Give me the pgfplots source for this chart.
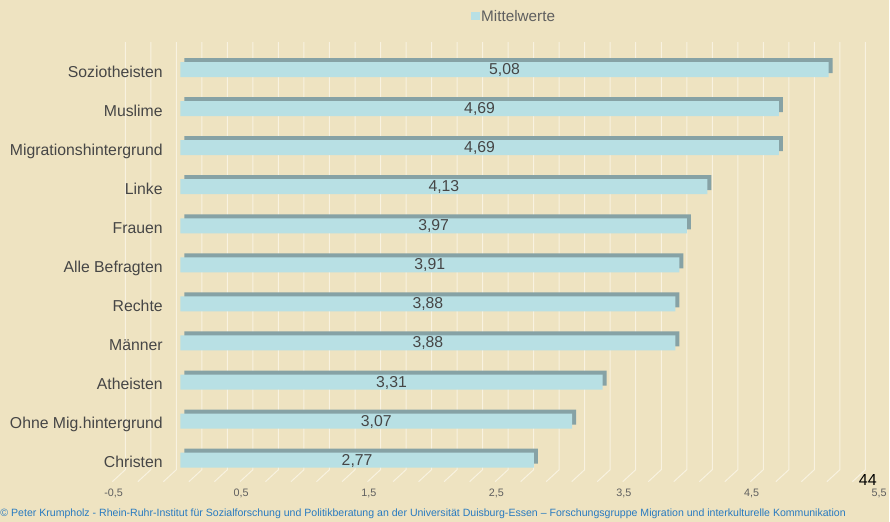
\documentclass[border=0pt]{standalone}
\usepackage{pgfplots}
\pgfplotsset{compat=1.18}
\usepackage{pgfplotstable}
\usepackage{fontspec}
\setmainfont{Liberation Sans}

\definecolor{bg}{RGB}{238,227,193}
\definecolor{barfront}{RGB}{184,224,228}
\definecolor{bartop}{RGB}{134,162,165}
\definecolor{gridc}{RGB}{248,242,224}
\definecolor{txt}{RGB}{70,70,70}
\definecolor{ticktxt}{RGB}{95,95,95}
\definecolor{foot}{RGB}{40,122,192}

\pgfplotstableread{
idx v
0 2.77
1 3.07
2 3.31
3 3.88
4 3.88
5 3.91
6 3.97
7 4.13
8 4.69
9 4.69
10 5.08
}\datatab

\begin{document}
\begin{tikzpicture}[x=1pt,y=1pt]
\begin{axis}[
  set layers=standard,
  at={(116.65pt,-484pt)}, anchor=south west,
  scale only axis, width=766.2pt, height=441.8pt,
  xmin=-0.5, xmax=5.5, ymin=-0.6, ymax=10.7,
  clip=false,
  axis line style={draw=none}, major tick length=0pt,
  /pgf/number format/assume math mode=true,
  xtick={-0.5,0.5,1.5,2.5,3.5,4.5,5.5},
  xticklabels={{-0,5},{0,5},{1,5},{2,5},{3,5},{4,5},{5,5}},
  xticklabel style={anchor=base, yshift=-12.9pt, xshift=-3pt, text=ticktxt, font=\fontsize{10.8}{12}\selectfont},
  ytick={0,...,10},
  yticklabels={Christen, Ohne Mig.hintergrund, Atheisten, Männer, Rechte, Alle Befragten, Frauen, Linke, Migrationshintergrund, Muslime, Soziotheisten},
  yticklabel style={anchor=base east, inner sep=0pt, xshift=46.35pt, yshift=-7.6pt, text=txt, font=\fontsize{15.8}{18}\selectfont},
  legend style={at={(0.4625,1.0582)}, anchor=west, draw=none, fill=none, inner sep=0pt, outer sep=0pt,
    font=\fontsize{15.3}{17}\selectfont, text=ticktxt, nodes={inner sep=1.5pt}},
  legend image code/.code={\fill[barfront] (0pt,-4pt) rectangle (9pt,4pt);},
]
\begin{pgfonlayer}{axis background}
\fill[bg] (axis description cs:-0.15225,-0.08601) rectangle (axis description cs:1.00934,1.09552);
\pgfplotsinvokeforeach{-0.4,-0.2,0,0.2,0.4,0.6,0.8,1.0,1.2,1.4,1.6,1.8,2.0,2.2,2.4,2.6,2.8,3.0,3.2,3.4,3.6,3.8,4.0,4.2,4.4,4.6,4.8,5.0,5.2,5.4}{
  \draw[gridc, line width=1pt] ([xshift=-4pt]axis cs:#1,10.7) -- ([xshift=-4pt]axis cs:#1,-0.243) -- ([xshift=-17pt]axis cs:#1,-0.55);
}
\end{pgfonlayer}
\addplot[xbar, bar shift=0pt, bar width=15pt, fill=bartop, draw=none, /tikz/xshift=4pt, /tikz/yshift=4pt, forget plot]
  table[x=v, y=idx]{\datatab};
\addplot[xbar, bar shift=0pt, bar width=15pt, fill=barfront, draw=none]
  table[x=v, y=idx]{\datatab};
\addlegendentry{Mittelwerte}
\addplot[draw=none, mark=none, forget plot, point meta=explicit,
  nodes near coords={\pgfmathprintnumber[fixed, fixed zerofill, precision=2, use comma]{\pgfplotspointmeta}},
  nodes near coords style={anchor=center, text=txt, font=\fontsize{15.8}{18}\selectfont, yshift=-0.5pt}]
  table[x expr=\thisrow{v}/2, y=idx, meta=v]{\datatab};
\end{axis}
\node[font=\fontsize{16}{18}\selectfont, text=black] at (868.5,-480.5) {44};
\node[text=foot, inner sep=0pt] at (423.5,-514) {\resizebox{846pt}{!}{\fontsize{9}{10}\selectfont © Peter Krumpholz - Rhein-Ruhr-Institut für Sozialforschung und Politikberatung an der Universität Duisburg-Essen – Forschungsgruppe Migration und interkulturelle Kommunikation}};
\end{tikzpicture}
\end{document}
